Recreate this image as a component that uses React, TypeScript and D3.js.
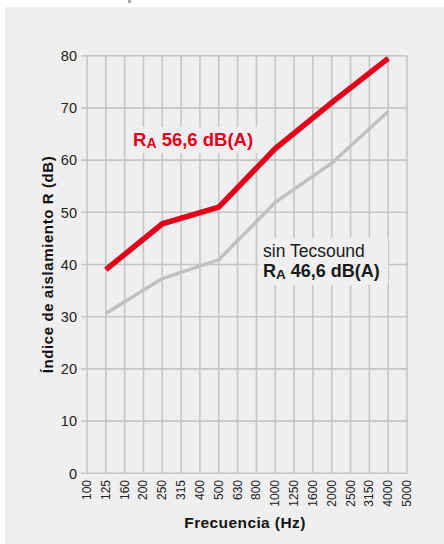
import React, { useEffect, useRef } from "react";
import * as d3 from "d3";

const frequencies = [
  "100", "125", "160", "200", "250", "315", "400", "500", "630",
  "800", "1000", "1250", "1600", "2000", "2500", "3150", "4000", "5000",
];
const octaveBands = ["125", "250", "500", "1000", "2000", "4000"];
const conTecsound = [39, 47.8, 51, 62.2, 71, 79.5];
const sinTecsound = [30.6, 37.3, 40.9, 51.9, 59.4, 69.3];
const yTicks = [0, 10, 20, 30, 40, 50, 60, 70, 80];

const App: React.FC = () => {
  const svgRef = useRef<SVGSVGElement | null>(null);

  useEffect(() => {
    const width = 444;
    const height = 544;
    const plot = { left: 87, right: 407, top: 55.7, bottom: 473.3 };
    const bg = "#efefef";
    const grid = "#c6c6c6";
    const narrow = "'Liberation Sans Narrow', 'Liberation Sans', Arial, sans-serif";
    const sans = "'Liberation Sans', Arial, sans-serif";

    const svg = d3.select(svgRef.current).attr("width", width).attr("height", height);
    svg.selectAll("*").remove();

    svg.append("rect").attr("width", width).attr("height", height).attr("fill", "#fff");
    svg.append("rect").attr("x", 5).attr("y", 7).attr("width", width - 5).attr("height", height - 7).attr("fill", bg);
    svg.append("rect").attr("x", 128).attr("y", 0).attr("width", 3).attr("height", 3).attr("fill", "#aaa");

    const x = d3.scalePoint<string>().domain(frequencies).range([plot.left, plot.right]);
    const y = d3.scaleLinear().domain([0, 80]).range([plot.bottom, plot.top]);

    // Grid
    const g = svg.append("g");
    g.selectAll(".h")
      .data(yTicks)
      .join("line")
      .attr("x1", plot.left - 6)
      .attr("x2", plot.right)
      .attr("y1", (d) => y(d))
      .attr("y2", (d) => y(d))
      .attr("stroke", grid)
      .attr("stroke-width", 1.6);
    g.selectAll(".v")
      .data(frequencies)
      .join("line")
      .attr("x1", (d) => x(d)!)
      .attr("x2", (d) => x(d)!)
      .attr("y1", plot.top)
      .attr("y2", plot.bottom)
      .attr("stroke", grid)
      .attr("stroke-width", 1.6);

    // Y tick labels
    svg.selectAll(".yl")
      .data(yTicks)
      .join("text")
      .attr("x", 77)
      .attr("y", (d) => y(d))
      .attr("dy", "0.36em")
      .attr("text-anchor", "end")
      .attr("font-family", narrow)
      .attr("font-size", 14.5)
      .attr("fill", "#222")
      .text((d) => d);

    // X tick labels
    svg.selectAll(".xl")
      .data(frequencies)
      .join("text")
      .attr("transform", (d) => `translate(${x(d)! + 4},480) rotate(-90)`)
      .attr("text-anchor", "end")
      .attr("font-family", narrow)
      .attr("font-size", 12)
      .attr("fill", "#222")
      .text((d) => d);

    // Label backgrounds (hide gridlines)
    svg.append("rect").attr("x", 128).attr("y", 127).attr("width", 130).attr("height", 26).attr("fill", bg);
    svg.append("rect").attr("x", 259).attr("y", 238).attr("width", 129).attr("height", 47).attr("fill", bg);

    const line = d3
      .line<number>()
      .x((_, i) => x(octaveBands[i])!)
      .y((d) => y(d));

    svg.append("path")
      .datum(sinTecsound)
      .attr("d", line)
      .attr("fill", "none")
      .attr("stroke", "#c0c0c0")
      .attr("stroke-width", 3.5);

    svg.append("path")
      .datum(conTecsound)
      .attr("d", line)
      .attr("fill", "none")
      .attr("stroke", "#e2001a")
      .attr("stroke-width", 5.5);

    // Red label
    const t1 = svg.append("text")
      .attr("x", 133)
      .attr("y", 146)
      .attr("font-family", sans)
      .attr("font-weight", "bold")
      .attr("font-size", 18.5)
      .attr("fill", "#e2001a");
    t1.append("tspan").text("R");
    t1.append("tspan").attr("font-size", 14).attr("dy", 1.5).text("A");
    t1.append("tspan").attr("dy", -1.5).text(" 56,6 dB(A)");

    // Gray label
    svg.append("text")
      .attr("x", 263)
      .attr("y", 257)
      .attr("font-family", sans)
      .attr("font-size", 17.5)
      .attr("fill", "#1a1a1a")
      .text("sin Tecsound");
    const t2 = svg.append("text")
      .attr("x", 263)
      .attr("y", 277)
      .attr("font-family", sans)
      .attr("font-weight", "bold")
      .attr("font-size", 18)
      .attr("fill", "#1a1a1a");
    t2.append("tspan").text("R");
    t2.append("tspan").attr("font-size", 13.5).attr("dy", 1.5).text("A");
    t2.append("tspan").attr("dy", -1.5).text(" 46,6 dB(A)");

    // Axis titles
    svg.append("text")
      .attr("transform", `translate(53,${(plot.top + plot.bottom) / 2}) rotate(-90)`)
      .attr("text-anchor", "middle")
      .attr("font-family", sans)
      .attr("font-weight", "bold")
      .attr("font-size", 15)
      .attr("letter-spacing", 0.6)
      .attr("fill", "#111")
      .text("Índice de aislamiento R (dB)");

    svg.append("text")
      .attr("x", 245)
      .attr("y", 528)
      .attr("text-anchor", "middle")
      .attr("font-family", sans)
      .attr("font-weight", "bold")
      .attr("font-size", 15.5)
      .attr("letter-spacing", 0.4)
      .attr("fill", "#111")
      .text("Frecuencia (Hz)");
  }, []);

  return <svg ref={svgRef} style={{ position: "absolute", left: 0, top: 0 }}></svg>;
};

export default App;
